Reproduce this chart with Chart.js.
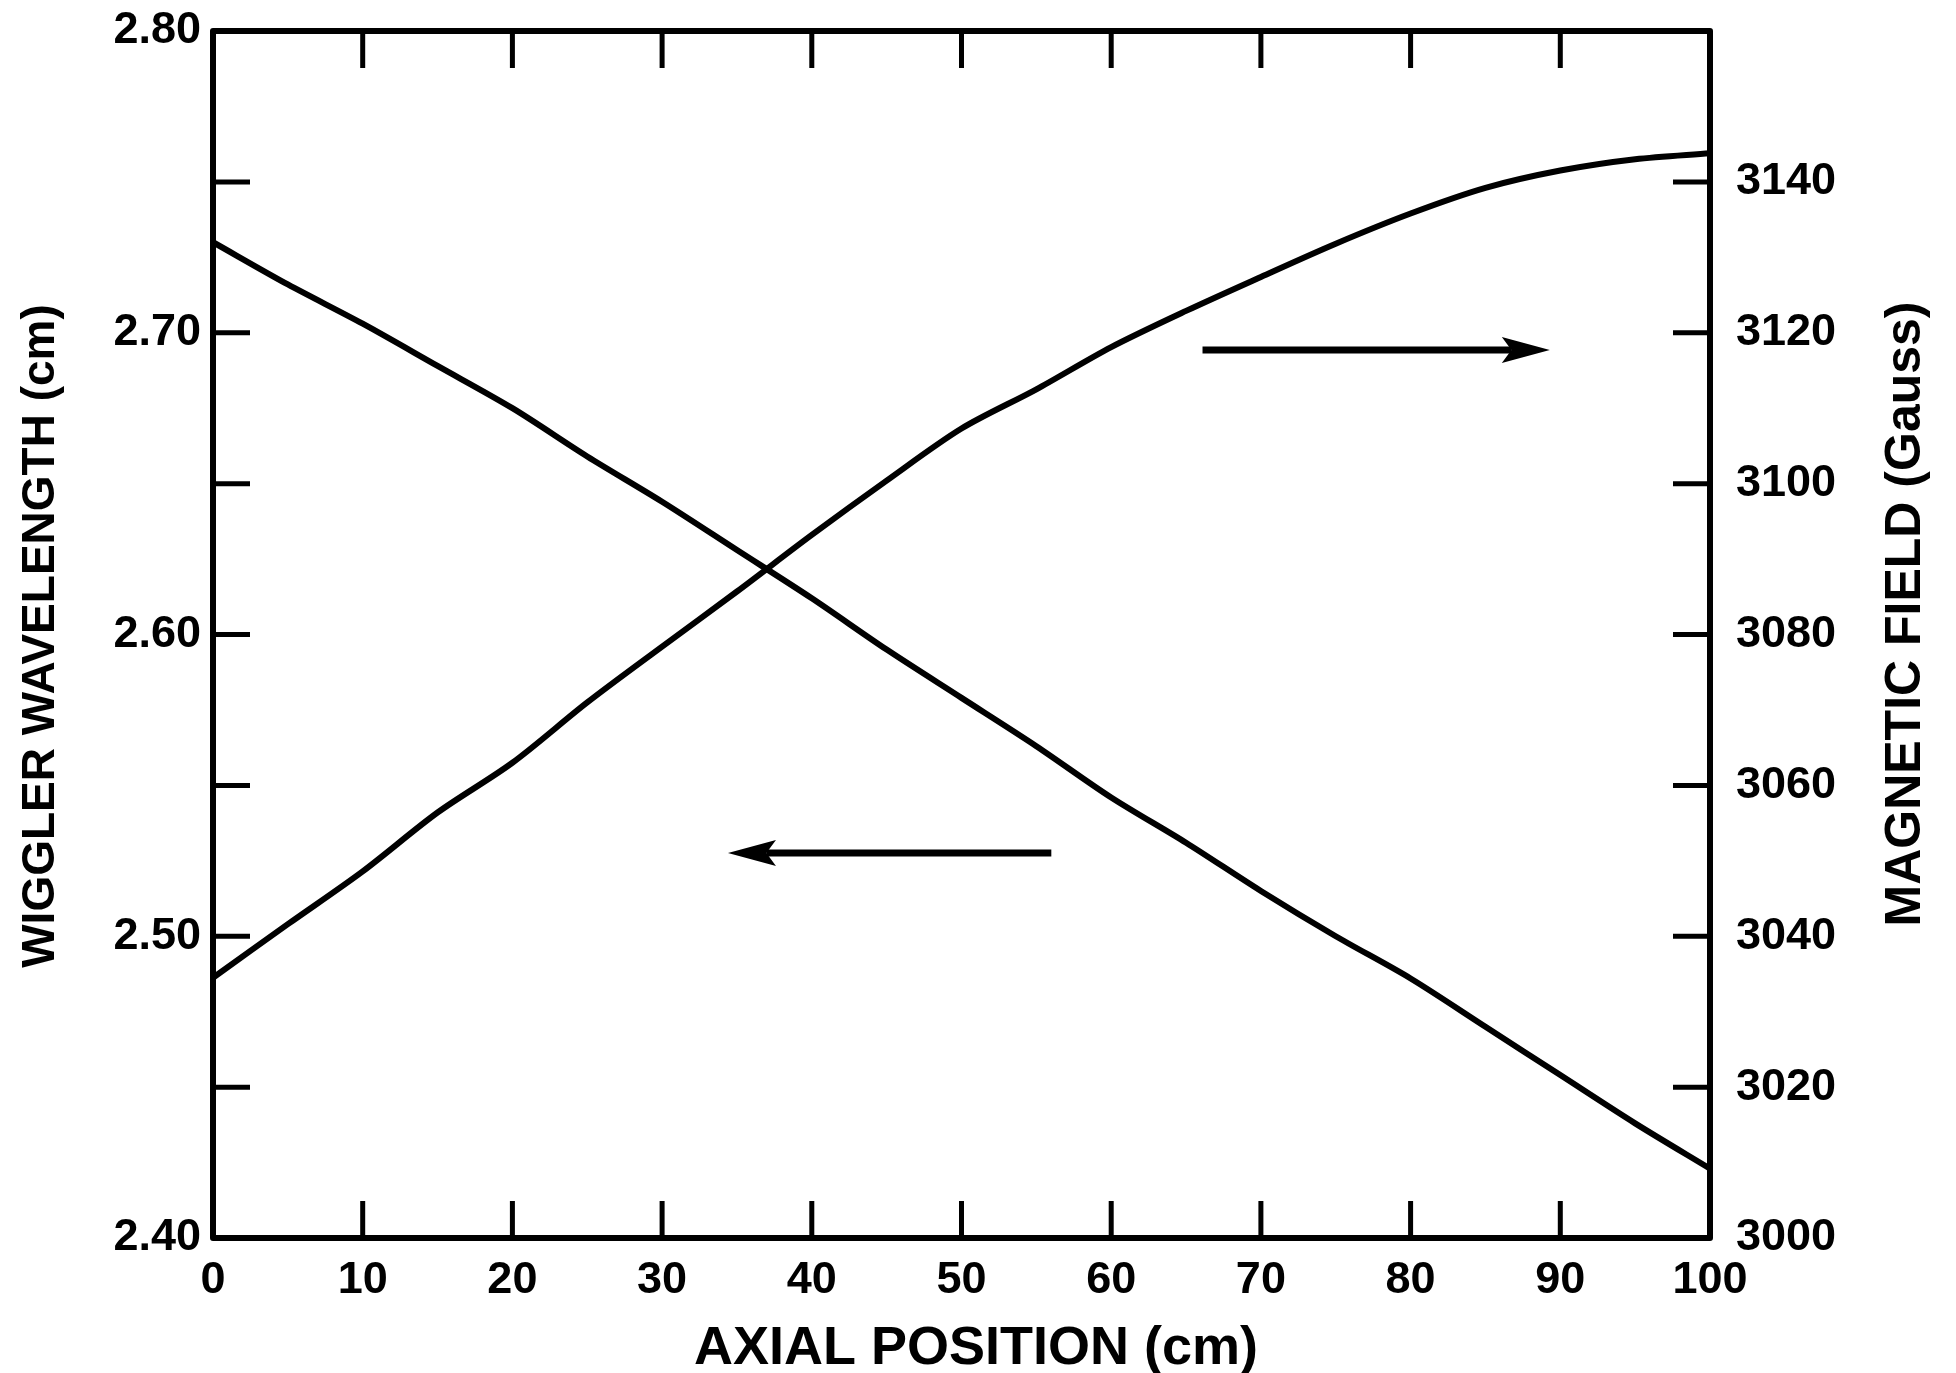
<!DOCTYPE html>
<html>
<head>
<meta charset="utf-8">
<script src="https://cdn.jsdelivr.net/npm/chart.js@4.4.1/dist/chart.umd.min.js"></script>
<style>
  html, body { margin: 0; padding: 0; background: #fff; }
  #wrap { width: 1956px; height: 1373px; }
</style>
</head>
<body>
<div id="wrap"><canvas id="c" width="1956" height="1373"></canvas></div>
<script>
// ---- data ----
const axialPosition = [0, 5, 10, 15, 20, 25, 30, 35, 40, 45, 50, 55, 60, 65, 70, 75, 80, 85, 90, 95, 100];
const wigglerWavelength = [2.730, 2.716, 2.703, 2.689, 2.675, 2.659, 2.644, 2.628, 2.612, 2.595, 2.579, 2.563, 2.546, 2.531, 2.515, 2.500, 2.486, 2.470, 2.454, 2.438, 2.423];
const magneticField = [3034.5, 3041.6, 3048.6, 3056.4, 3063.0, 3071.0, 3078.4, 3085.7, 3093.2, 3100.4, 3107.3, 3112.5, 3118.1, 3122.9, 3127.4, 3131.8, 3135.8, 3139.2, 3141.5, 3143.0, 3143.8];

const xTitle = 'AXIAL POSITION (cm)';
const leftTitle = 'WIGGLER WAVELENGTH (cm)';
const rightTitle = 'MAGNETIC FIELD (Gauss)';

const xRange = [0, 100];
const leftRange = [2.40, 2.80];
const rightRange = [3000, 3160];

// arrows (data coordinates): [xFrom, xTo, y]
const rightArrow = [66.1, 89.3, 3117.7];   // points toward right axis
const leftArrow = [56.0, 34.4, 2.5276];    // points toward left axis

const wlPoints = axialPosition.map((x, i) => ({ x: x, y: wigglerWavelength[i] }));
const bPoints = axialPosition.map((x, i) => ({ x: x, y: magneticField[i] }));

const tickFont = { family: 'Liberation Sans', weight: 'bold', size: 45 };

const framePlugin = {
  id: 'frame',
  beforeDraw(chart) {
    const ctx = chart.ctx;
    ctx.save();
    ctx.fillStyle = '#ffffff';
    ctx.fillRect(0, 0, chart.width, chart.height);
    ctx.restore();
  },
  afterDraw(chart) {
    const ctx = chart.ctx;
    const a = chart.chartArea;
    const sx = chart.scales.x, sl = chart.scales.yL, sr = chart.scales.yR;
    const tl = 37;
    ctx.save();
    ctx.strokeStyle = '#000';
    ctx.lineCap = 'butt';
    // inward ticks
    ctx.lineWidth = 5;
    ctx.beginPath();
    sx.ticks.forEach(t => {
      if (t.value <= xRange[0] || t.value >= xRange[1]) return;
      const px = sx.getPixelForValue(t.value);
      ctx.moveTo(px, a.bottom); ctx.lineTo(px, a.bottom - tl);
      ctx.moveTo(px, a.top); ctx.lineTo(px, a.top + tl);
    });
    sl.ticks.forEach(t => {
      if (t.value <= leftRange[0] + 1e-9 || t.value >= leftRange[1] - 1e-9) return;
      const py = sl.getPixelForValue(t.value);
      ctx.moveTo(a.left, py); ctx.lineTo(a.left + tl, py);
    });
    sr.ticks.forEach(t => {
      if (t.value <= rightRange[0] || t.value >= rightRange[1]) return;
      const py = sr.getPixelForValue(t.value);
      ctx.moveTo(a.right, py); ctx.lineTo(a.right - tl, py);
    });
    ctx.stroke();
    // frame
    ctx.lineWidth = 6;
    ctx.lineJoin = 'round';
    ctx.strokeRect(a.left, a.top, a.right - a.left, a.bottom - a.top);

    // arrows
    function arrow(x1, x2, y) {
      const headLen = 48, headHalf = 13;
      const dir = Math.sign(x2 - x1);
      ctx.lineWidth = 7;
      ctx.beginPath();
      ctx.moveTo(x1, y);
      ctx.lineTo(x2 - dir * headLen * 0.8, y);
      ctx.stroke();
      ctx.beginPath();
      ctx.moveTo(x2, y);
      ctx.lineTo(x2 - dir * headLen, y - headHalf);
      ctx.lineTo(x2 - dir * headLen * 0.8, y);
      ctx.lineTo(x2 - dir * headLen, y + headHalf);
      ctx.closePath();
      ctx.fillStyle = '#000';
      ctx.fill();
    }
    arrow(sx.getPixelForValue(rightArrow[0]), sx.getPixelForValue(rightArrow[1]), sr.getPixelForValue(rightArrow[2]));
    arrow(sx.getPixelForValue(leftArrow[0]), sx.getPixelForValue(leftArrow[1]), sl.getPixelForValue(leftArrow[2]));

    // axis titles
    ctx.fillStyle = '#000';
    ctx.textAlign = 'center';
    ctx.textBaseline = 'middle';
    ctx.font = 'bold 54px "Liberation Sans"';
    ctx.fillText(xTitle, 976, 1349);
    ctx.save();
    ctx.font = 'bold 46px "Liberation Sans"';
    ctx.translate(41, 636);
    ctx.rotate(-Math.PI / 2);
    ctx.fillText(leftTitle, 0, 0);
    ctx.restore();
    ctx.save();
    ctx.font = 'bold 50px "Liberation Sans"';
    ctx.translate(1906, 614);
    ctx.rotate(-Math.PI / 2);
    ctx.fillText(rightTitle, 0, 0);
    ctx.restore();
    ctx.restore();
  }
};

new Chart(document.getElementById('c'), {
  type: 'line',
  data: {
    datasets: [
      { label: leftTitle, data: wlPoints, yAxisID: 'yL', borderColor: '#000', borderWidth: 6, pointRadius: 0, tension: 0.3, fill: false },
      { label: rightTitle, data: bPoints, yAxisID: 'yR', borderColor: '#000', borderWidth: 6, pointRadius: 0, tension: 0.3, fill: false }
    ]
  },
  options: {
    responsive: false,
    animation: false,
    devicePixelRatio: 1,
    layout: { padding: { top: 31, left: 0, right: 0, bottom: 0 } },
    plugins: { legend: { display: false }, tooltip: { enabled: false }, title: { display: false } },
    scales: {
      x: {
        type: 'linear', position: 'bottom', min: xRange[0], max: xRange[1],
        grid: { display: false, drawTicks: false },
        border: { display: false },
        ticks: { stepSize: 10, color: '#000', font: tickFont, padding: 16, maxRotation: 0 },
        afterFit(scale) { scale.height = 135; scale.paddingLeft = 0; scale.paddingRight = 0; }
      },
      yL: {
        type: 'linear', position: 'left', min: leftRange[0], max: leftRange[1],
        grid: { display: false, drawTicks: false },
        border: { display: false },
        ticks: {
          stepSize: 0.05, color: '#000', font: tickFont, padding: 12,
          callback: (v) => Math.abs(v * 10 - Math.round(v * 10)) < 1e-6 ? Number(v).toFixed(2) : ''
        },
        afterFit(scale) { scale.width = 213; scale.paddingTop = 0; scale.paddingBottom = 0; }
      },
      yR: {
        type: 'linear', position: 'right', min: rightRange[0], max: rightRange[1],
        grid: { display: false, drawTicks: false },
        border: { display: false },
        ticks: {
          stepSize: 20, color: '#000', font: tickFont, padding: 26,
          callback: (v) => v >= rightRange[1] ? '' : String(v)
        },
        afterFit(scale) { scale.width = 246; scale.paddingTop = 0; scale.paddingBottom = 0; }
      }
    }
  },
  plugins: [framePlugin]
});
</script>
</body>
</html>
